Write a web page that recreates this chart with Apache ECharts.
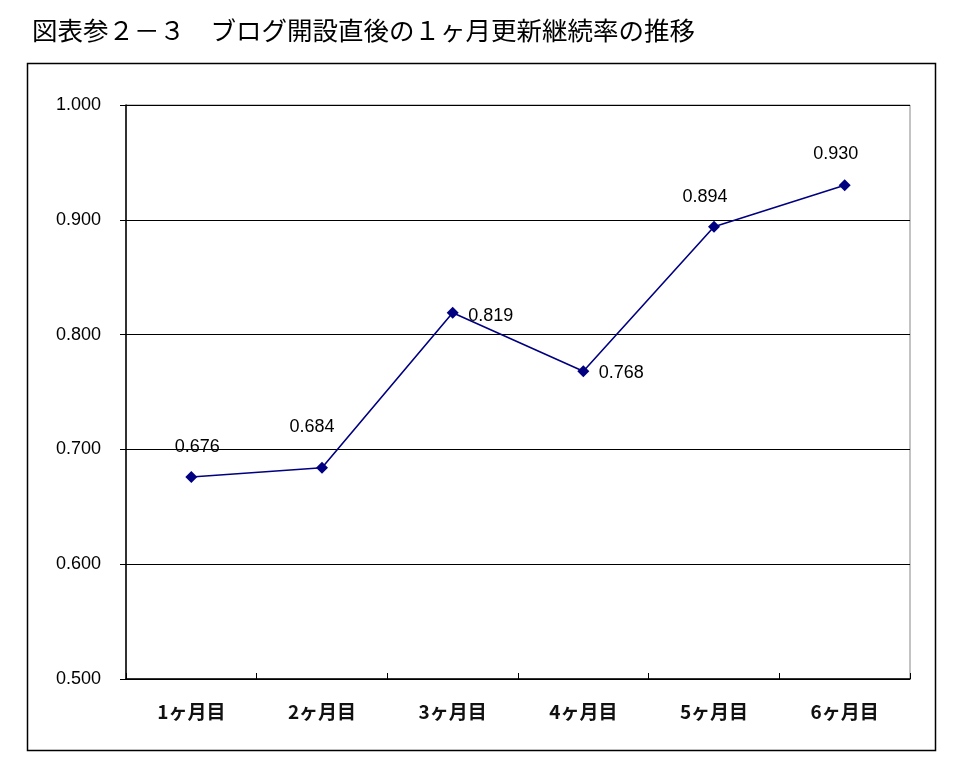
<!DOCTYPE html>
<html>
<head>
<meta charset="utf-8">
<script src="https://cdn.jsdelivr.net/npm/echarts@6/dist/echarts.min.js"></script>
<style>
html,body{margin:0;padding:0;background:#fff;}
#chart{width:971px;height:778px;}
</style>
</head>
<body>
<div id="chart"></div>
<script>
const titleText = '図表参２－３　ブログ開設直後の１ヶ月更新継続率の推移';
const categories = ['1ヶ月目', '2ヶ月目', '3ヶ月目', '4ヶ月目', '5ヶ月目', '6ヶ月目'];
const values = [0.676, 0.684, 0.819, 0.768, 0.894, 0.930];
const yMin = 0.5, yMax = 1.0, yStep = 0.1;

// label placement (style only)
const labelOffsets = [[6, -30], [-10, -41], [38, 3], [38, 2], [-9, -30], [-9, -31]];

const chart = echarts.init(document.getElementById('chart'), null, {renderer: 'canvas'});
const option = {
  backgroundColor: '#fff',
  animation: false,
  title: {
    text: titleText,
    left: 27, top: 13,
    textStyle: {fontFamily: 'Noto Sans CJK JP', fontSize: 25.5, fontWeight: 'normal', color: '#000'}
  },
  graphic: [{
    type: 'rect',
    shape: {x: 27.5, y: 63.5, width: 908, height: 687},
    style: {fill: 'none', stroke: '#000', lineWidth: 1.5},
    z: -1
  }],
  grid: {
    left: 126, right: 61, top: 105, bottom: 99,
    show: true, borderColor: '#888', borderWidth: 1, backgroundColor: 'transparent'
  },
  xAxis: {
    type: 'category',
    data: categories,
    boundaryGap: true,
    axisLine: {lineStyle: {color: '#000', width: 1.5}},
    axisTick: {show: true, inside: true, length: 6, lineStyle: {color: '#000'}},
    axisLabel: {margin: 23, fontFamily: 'Noto Sans CJK JP', fontSize: 19, fontWeight: 'bold', color: '#111'},
    splitLine: {show: false}
  },
  yAxis: {
    type: 'value',
    min: yMin, max: yMax, interval: yStep,
    axisLine: {show: true, lineStyle: {color: '#000', width: 1.5}},
    axisTick: {show: true, inside: false, length: 6, lineStyle: {color: '#000'}},
    axisLabel: {margin: 25, fontFamily: 'Liberation Sans', fontSize: 18, color: '#000',
      formatter: v => v.toFixed(3)},
    splitLine: {show: true, lineStyle: {color: '#000', width: 1}}
  },
  series: [{
    type: 'line',
    data: values.map((v, i) => ({
      value: v,
      label: {position: 'inside', offset: labelOffsets[i]}
    })),
    symbol: 'diamond',
    symbolSize: 12,
    itemStyle: {color: '#000080'},
    lineStyle: {color: '#000080', width: 1.6},
    label: {
      show: true,
      formatter: p => p.value.toFixed(3),
      fontFamily: 'Liberation Sans', fontSize: 18, color: '#000'
    }
  }]
};
chart.setOption(option);
</script>
</body>
</html>
